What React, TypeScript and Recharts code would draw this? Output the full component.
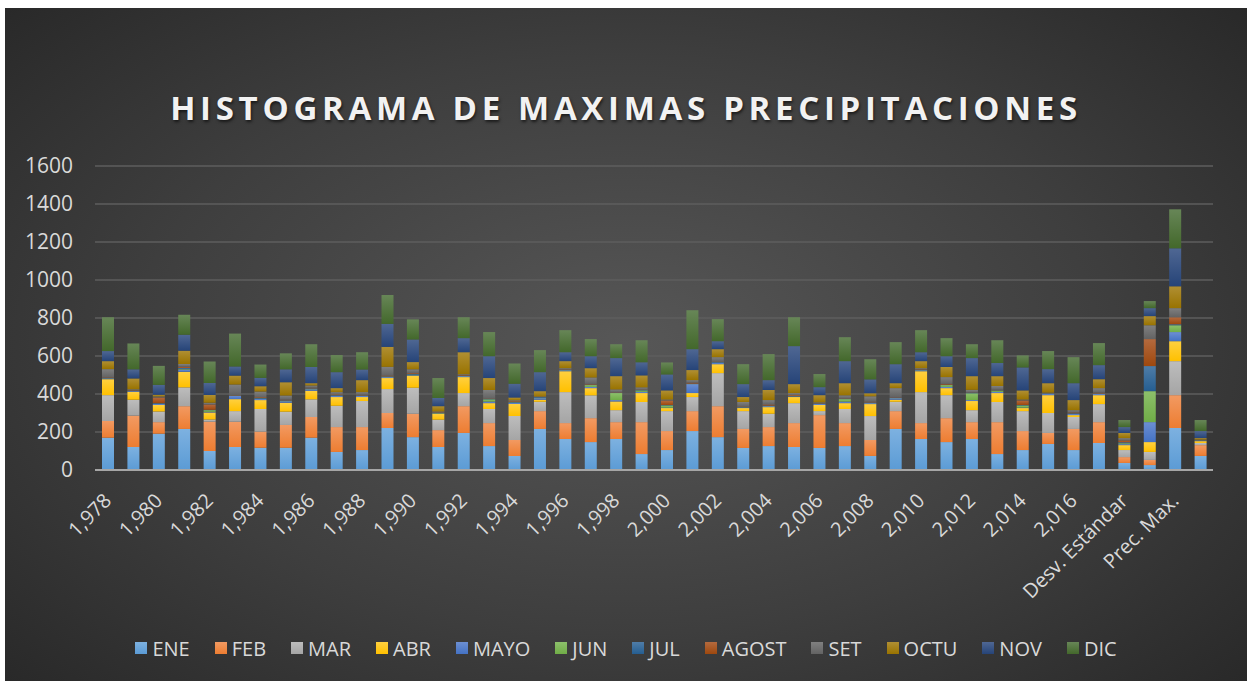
import React from 'react';
import { BarChart, Bar, XAxis, YAxis, CartesianGrid, Legend } from 'recharts';

// categories: years 1978-2017 plus the summary columns
const categories = [
  '1,978', '1,979', '1,980', '1,981', '1,982', '1,983', '1,984', '1,985', '1,986', '1,987',
  '1,988', '1,989', '1,990', '1,991', '1,992', '1,993', '1,994', '1,995', '1,996', '1,997',
  '1,998', '1,999', '2,000', '2,001', '2,002', '2,003', '2,004', '2,005', '2,006', '2,007',
  '2,008', '2,009', '2,010', '2,011', '2,012', '2,013', '2,014', '2,015', '2,016', '2,017',
  'Desv. Estándar', 'Coef. Variación', 'Prec. Max.', 'Prec. Min.'
];

const ene = [170, 121, 191, 216, 100, 121, 117, 117, 170, 95, 105, 221, 173, 121, 195, 126, 74, 216, 163, 147, 163, 84, 105, 205, 173, 116, 126, 121, 116, 126, 74, 216, 163, 147, 163, 84, 105, 137, 105, 142, 37, 26, 221, 74];
const feb = [88, 165, 61, 120, 154, 133, 85, 120, 109, 131, 121, 79, 123, 89, 141, 121, 84, 94, 84, 126, 89, 168, 100, 105, 163, 100, 100, 126, 173, 121, 84, 94, 84, 126, 89, 168, 100, 58, 111, 110, 31, 27, 173, 57];
const mar = [136, 84, 56, 99, 12, 56, 119, 70, 93, 112, 137, 126, 137, 55, 69, 74, 126, 49, 163, 120, 63, 106, 105, 74, 174, 94, 70, 105, 21, 74, 126, 49, 163, 121, 63, 106, 105, 105, 63, 95, 37, 42, 179, 11];
const abr = [84, 42, 34, 82, 37, 63, 47, 47, 45, 46, 21, 58, 63, 31, 84, 31, 63, 11, 110, 38, 46, 47, 16, 21, 47, 16, 35, 32, 32, 31, 63, 11, 110, 37, 48, 47, 16, 94, 10, 47, 26, 52, 105, 10];
const mayo = [4, 5, 6, 12, 3, 18, 6, 8, 8, 6, 6, 5, 3, 2, 5, 8, 6, 8, 5, 6, 7, 6, 2, 47, 8, 2, 5, 2, 6, 8, 5, 8, 5, 6, 5, 6, 2, 7, 7, 6, 5, 105, 48, 3];
const jun = [1, 1, 1, 3, 9, 1, 2, 2, 2, 1, 1, 2, 3, 2, 1, 12, 2, 2, 1, 10, 37, 8, 12, 1, 1, 1, 1, 1, 1, 13, 1, 1, 1, 10, 36, 7, 12, 1, 1, 1, 5, 163, 36, 1];
const jul = [1, 1, 3, 5, 2, 1, 3, 3, 3, 3, 2, 2, 4, 1, 2, 2, 3, 4, 3, 3, 3, 2, 2, 2, 3, 2, 2, 2, 2, 2, 3, 3, 3, 2, 2, 2, 2, 2, 2, 2, 5, 132, 5, 1];
const agost = [3, 2, 30, 6, 28, 2, 4, 3, 3, 4, 3, 4, 4, 2, 3, 2, 4, 2, 2, 3, 2, 2, 24, 5, 2, 3, 6, 5, 2, 2, 4, 2, 2, 4, 1, 2, 24, 1, 4, 4, 10, 142, 37, 1];
const set = [44, 4, 5, 15, 9, 55, 30, 22, 12, 12, 14, 46, 20, 5, 4, 45, 5, 1, 5, 34, 14, 12, 5, 13, 23, 24, 23, 11, 3, 16, 28, 47, 5, 36, 15, 20, 5, 2, 12, 24, 12, 73, 48, 2];
const octu = [42, 57, 9, 70, 41, 47, 28, 70, 12, 21, 63, 105, 38, 28, 116, 63, 14, 28, 37, 49, 70, 63, 48, 53, 42, 26, 53, 47, 38, 64, 16, 26, 37, 53, 72, 52, 48, 50, 53, 47, 27, 48, 115, 8];
const nov = [53, 48, 52, 84, 63, 48, 44, 68, 85, 84, 56, 121, 119, 43, 74, 115, 73, 100, 47, 63, 95, 69, 84, 110, 42, 68, 52, 200, 42, 116, 73, 100, 47, 57, 95, 69, 121, 74, 89, 74, 31, 42, 200, 37];
const dic = [178, 136, 100, 105, 113, 173, 70, 84, 120, 90, 91, 152, 106, 105, 110, 127, 106, 116, 116, 90, 73, 116, 63, 205, 116, 105, 137, 152, 69, 126, 106, 116, 116, 95, 73, 120, 63, 95, 137, 116, 37, 37, 205, 58];

const seriesNames = ['ENE', 'FEB', 'MAR', 'ABR', 'MAYO', 'JUN', 'JUL', 'AGOST', 'SET', 'OCTU', 'NOV', 'DIC'];
const seriesValues = [ene, feb, mar, abr, mayo, jun, jul, agost, set, octu, nov, dic];
const yTicks = [0, 200, 400, 600, 800, 1000, 1200, 1400, 1600];

const colors = ['#5B9BD5', '#ED7D31', '#A5A5A5', '#FFC000', '#4472C4', '#70AD47', '#255E91', '#9E480E', '#636363', '#997300', '#264478', '#43682B'];
const lightColors = ['#7DB1E0', '#F29A62', '#BDBDBD', '#FFD040', '#6C8FD2', '#8DC06B', '#4F7DA8', '#B46A3E', '#808080', '#B08F33', '#4F6793', '#678657'];

const data = categories.map((cat, i) => {
  const row: any = { cat };
  seriesNames.forEach((name, s) => {
    row[name] = seriesValues[s][i];
  });
  return row;
});

const FONT = '"Open Sans", "Liberation Sans", sans-serif';

const XTick = ({ x, y, payload }: any) => {
  const tx = x + 5;
  const ty = y + 32;
  return (
    <text
      x={tx}
      y={ty}
      transform={`rotate(-45, ${tx}, ${ty})`}
      textAnchor="end"
      fill="#d9d9d9"
      fontSize={20}
      fontFamily={FONT}
    >
      {payload.value}
    </text>
  );
};

const LegendContent = () => (
  <div
    style={{
      display: 'flex',
      justifyContent: 'center',
      alignItems: 'center',
      height: 30,
      fontFamily: FONT,
      fontSize: 20,
      color: '#d9d9d9',
    }}
  >
    {seriesNames.map((name, i) => (
      <div key={name} style={{ display: 'flex', alignItems: 'center', marginRight: i < seriesNames.length - 1 ? 25 : 0 }}>
        <span
          style={{
            display: 'inline-block',
            width: 12,
            height: 12,
            marginRight: 5,
            background: `linear-gradient(${lightColors[i]}, ${colors[i]})`,
          }}
        />
        <span>{name}</span>
      </div>
    ))}
  </div>
);

export default function App() {
  return (
    <div
      style={{
        position: 'absolute',
        left: 5,
        top: 8,
        width: 1242,
        height: 673,
        background: 'radial-gradient(ellipse 72% 78% at 50% 50%, #575757 0%, #3e3e3e 55%, #262626 100%)',
        fontFamily: FONT,
        overflow: 'hidden',
      }}
    >
      <div
        style={{
          position: 'absolute',
          left: 0,
          top: 83,
          width: 1242,
          textAlign: 'center',
          fontSize: 33,
          lineHeight: '33px',
          fontWeight: 700,
          letterSpacing: 4.7,
          color: '#f2f2f2',
          textShadow: '1px 2px 3px rgba(0,0,0,0.6)',
        }}
      >
        HISTOGRAMA DE MAXIMAS PRECIPITACIONES
      </div>
      <BarChart
        width={1242}
        height={673}
        data={data}
        margin={{ top: 158, right: 34, left: 0, bottom: 0 }}
        barSize={12}
        style={{ position: 'absolute', left: 0, top: 0 }}
      >
        <defs>
          {colors.map((c, i) => (
            <linearGradient key={i} id={`grad${i}`} x1="0" y1="0" x2="0" y2="1">
              <stop offset="0%" stopColor={lightColors[i]} />
              <stop offset="100%" stopColor={c} />
            </linearGradient>
          ))}
        </defs>
        <CartesianGrid vertical={false} stroke="#5e5e5e" strokeWidth={1.5} />
        <XAxis
          dataKey="cat"
          interval={1}
          tickLine={false}
          tickSize={0}
          tickMargin={0}
          height={181}
          axisLine={{ stroke: '#a6a6a6', strokeWidth: 2 }}
          tick={<XTick />}
        />
        <YAxis
          width={90}
          domain={[0, 1600]}
          ticks={yTicks}
          axisLine={false}
          tickLine={false}
          tickSize={0}
          tickMargin={22}
          tick={{ fill: '#d9d9d9', fontSize: 21, fontFamily: FONT }}
        />
        <Legend
          content={<LegendContent />}
          wrapperStyle={{ top: 625, left: 0, width: 1242, height: 30 }}
        />
        {seriesNames.map((name, i) => (
          <Bar
            key={name}
            dataKey={name}
            stackId="a"
            fill={`url(#grad${i})`}
            isAnimationActive={false}
          />
        ))}
      </BarChart>
    </div>
  );
}
